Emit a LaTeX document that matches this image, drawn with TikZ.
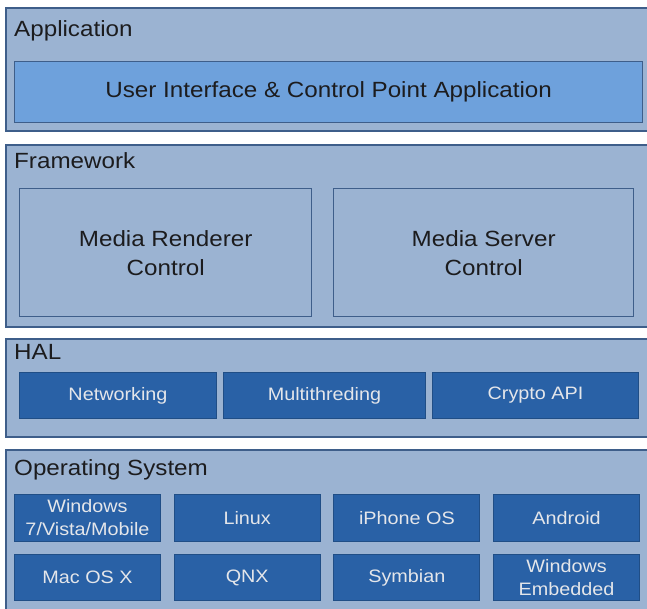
\documentclass[tikz,border=0pt]{standalone}
\usepackage{fontspec}
\setmainfont[FakeStretch=1.1]{Liberation Sans}
\usepackage{tikz}
\usetikzlibrary{positioning}

\definecolor{layerfill}{RGB}{155,179,210}
\definecolor{layerline}{RGB}{62,94,138}
\definecolor{appfill}{RGB}{110,161,220}
\definecolor{modfill}{RGB}{41,97,166}
\definecolor{modline}{RGB}{32,78,134}
\definecolor{modtext}{RGB}{228,230,234}
\definecolor{labeltext}{RGB}{28,28,30}

\begin{document}
\begin{tikzpicture}[x=1pt, y=-1pt,
		layer/.style={draw=layerline, line width=1.5pt, fill=layerfill, anchor=north west, inner sep=0pt, minimum width=650pt},
		layername/.style={anchor=base west, inner sep=0pt, text=labeltext, font=\fontsize{22}{28}\selectfont},
		bigbox/.style={draw=layerline, line width=1.3pt, anchor=north west, inner sep=0pt, align=center, text=labeltext, font=\fontsize{22}{29}\selectfont},
		modbox/.style={draw=modline, line width=1pt, fill=modfill, anchor=north west, inner sep=0pt, align=center, text=modtext, font=\fontsize{18}{23}\selectfont}]
				
				% Page
				\fill[white] (0,0) rectangle (647,608);
				\useasboundingbox (0,0) rectangle (647,608);
				
				% Layers
				\node[layer, minimum height=123pt] (app) at (5,7) {};
				\node[layer, minimum height=182pt] (frame) at (5,144) {};
				\node[layer, minimum height=98pt] (hal) at (5,338) {};
				\node[layer, minimum height=170pt] (os) at (5,449) {};
				\node[layername] (appname) at (14,36) {Application};
				\node[layername] (framename) at (14,168) {Framework};
				\node[layername] (halname) at (14,359) {HAL};
				\node[layername] (osname) at (14,475) {Operating System};
				
				% Application
				\node[bigbox, fill=appfill, minimum width=628pt, minimum height=61pt] (ui) at (14,61) {User Interface \& Control Point Application};
				
				% Framework
				\node[bigbox, fill=layerfill, minimum width=292pt, minimum height=128pt] (renderer) at (19,188) {Media Renderer\\Control};
				\node[bigbox, fill=layerfill, minimum width=300pt, minimum height=128pt] (server) at (333,188) {Media Server\\Control};
				
				% HAL
				\node[modbox, minimum width=197pt, minimum height=46pt] (net) at (19,372) {Networking};
				\node[modbox, minimum width=202pt, minimum height=46pt] (thread) at (223,372) {Multithreding};
				\node[modbox, minimum width=206pt, minimum height=46pt] (crypto) at (432,372) {Crypto API};
				
				% Operating systems
				\foreach \name/\txt [count=\i from 0] in {win/{Windows\\7/Vista/Mobile}, linux/Linux, iphone/iPhone OS, android/Android} {
					\node[modbox, minimum width=146pt, minimum height=47pt] (\name) at ({14+159.7*\i},494) {\txt};
				}
				\foreach \name/\txt [count=\i from 0] in {mac/Mac OS X, qnx/QNX, symbian/Symbian, wince/{Windows\\Embedded}} {
					\node[modbox, minimum width=146pt, minimum height=46pt] (\name) at ({14+159.7*\i},554) {\txt};
				}
			\end{tikzpicture}
\end{document}
